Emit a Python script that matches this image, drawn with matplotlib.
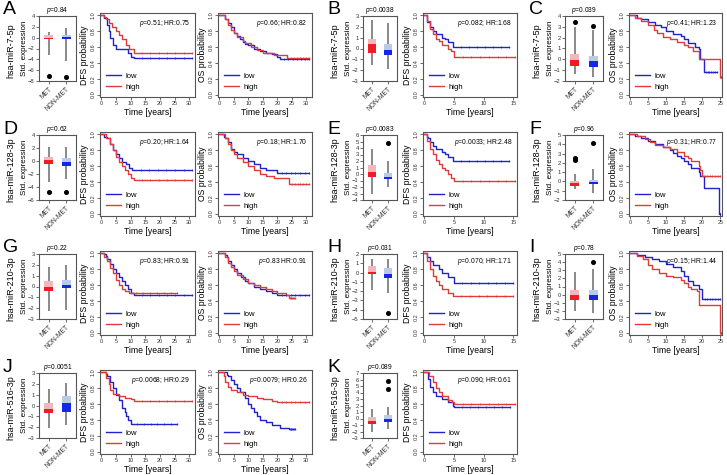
import matplotlib
matplotlib.use('Agg')
import matplotlib.pyplot as plt
import numpy as np

plt.rcParams['font.family'] = ['Liberation Sans', 'DejaVu Sans']
plt.rcParams['mathtext.fontset'] = 'custom'
plt.rcParams['mathtext.it'] = 'Liberation Sans:italic'
plt.rcParams['mathtext.rm'] = 'Liberation Sans'

W, H = 727, 475

BLUE = '#2222cc'
RED = '#e03a3a'
DARK = {'MET': '#ee1c24', 'NON-MET': '#1426e6'}
LIGHT = {'MET': '#f2b6bd', 'NON-MET': '#b9cbe9'}

# ---- box plot values: [low whisker, q1, median, q3, high whisker] ----
A_met = [-3.2, -0.3, 0.0, 0.5, 1.0];   A_met_out = [-7.0]
A_non = [-4.3, -0.3, 0.05, 0.55, 1.8]; A_non_out = [-7.2]
B_met = [-1.5, -0.45, 0.4, 0.85, 2.6]; B_met_out = []
B_non = [-1.9, -0.6, -0.1, 0.45, 2.4]; B_non_out = []
C_met = [-1.4, -0.6, -0.05, 0.5, 3.0]; C_met_out = [3.4]
C_non = [-1.6, -0.7, -0.2, 0.35, 2.7]; C_non_out = [3.1]
D_met = [-3.2, -0.4, 0.1, 0.6, 2.2];   D_met_out = [-4.7]
D_non = [-2.8, -0.8, -0.1, 0.4, 2.2];  D_non_out = [-4.7]
E_met = [-3.0, -0.4, 0.3, 1.4, 3.9];   E_met_out = []
E_non = [-2.0, -0.8, -0.4, 0.2, 2.0];  E_non_out = [4.8]
F_met = [-0.8, -0.45, -0.2, 0.1, 0.8]; F_met_out = [2.35, 2.45, 2.55]
F_non = [-1.2, -0.3, -0.05, 0.2, 1.3]; F_non_out = [4.1]
G_met = [-2.3, -0.4, 0.0, 0.5, 1.8];   G_met_out = []
G_non = [-2.2, -0.15, 0.15, 0.6, 2.0]; G_non_out = []
H_met = [-1.9, -0.2, 0.1, 0.7, 1.5];   H_met_out = []
H_non = [-2.2, -0.6, -0.2, 0.5, 1.5];  H_non_out = [-4.3]
I_met = [-2.0, -0.6, -0.1, 0.6, 2.8];  I_met_out = []
I_non = [-2.3, -0.6, -0.1, 0.6, 3.1];  I_non_out = [4.0]
J_met = [-2.1, -0.65, -0.3, 0.2, 1.5]; J_met_out = []
J_non = [-1.8, -0.6, 0.2, 0.9, 2.1];   J_non_out = []
K_met = [-2.0, -0.8, -0.4, 0.2, 1.5];  K_met_out = []
K_non = [-1.6, -0.6, -0.1, 0.5, 1.8];  K_non_out = [4.5, 5.7]

box_pvals = {'A': '0.84', 'B': '0.0038', 'C': '0.039', 'D': '0.62', 'E': '0.0083',
             'F': '0.96', 'G': '0.22', 'H': '0.031', 'I': '0.78', 'J': '0.0051', 'K': '0.089'}
box_ylims = {'A': (-8, 4, 2), 'B': (-3, 3, 1), 'C': (-2, 4, 1), 'D': (-6, 4, 2),
             'E': (-4, 6, 1), 'F': (-2, 5, 1), 'G': (-3, 3, 1), 'H': (-5, 2, 1),
             'I': (-3, 5, 1), 'J': (-3, 3, 1), 'K': (-3, 7, 1)}
genes = ['hsa-miR-7-5p', 'hsa-miR-128-3p', 'hsa-miR-210-3p', 'hsa-miR-516-3p']

# ---- Kaplan-Meier curves: step times and survival after each step ----
A_dfs_low_t = [0, 1, 2, 2.5, 3, 4, 5, 9, 10, 11, 31]
A_dfs_low_s = [1, .97, .88, .8, .72, .62, .58, .52, .48, .46, .46]
A_dfs_high_t = [0, 1, 1.5, 2.5, 3.5, 5, 6, 7, 8.5, 9.5, 11, 31]
A_dfs_high_s = [1, .98, .95, .9, .85, .8, .75, .7, .62, .57, .52, .52]
A_os_low_t = [0, 2, 3, 4, 5, 6, 7, 8, 9, 10, 12, 14, 16, 18, 20, 21, 31]
A_os_low_s = [1, .96, .9, .85, .78, .74, .7, .67, .64, .62, .58, .55, .53, .51, .47, .45, .45]
A_os_high_t = [0, 2, 3, 4, 5, 6, 8, 9, 11, 13, 15, 18, 19, 23.5, 31]
A_os_high_s = [1, .95, .88, .82, .78, .73, .68, .65, .6, .56, .53, .52, .5, .46, .46]

B_dfs_low_t = [0, .5, 1, 1.5, 2, 3, 3.5, 4, 4.8, 14.3]
B_dfs_low_s = [1, .92, .85, .8, .77, .72, .7, .67, .6, .6]
B_dfs_high_t = [0, .5, 1, 1.5, 2, 2.5, 3, 4, 4.5, 5, 15.3]
B_dfs_high_s = [1, .93, .83, .77, .7, .68, .62, .58, .55, .48, .48]

C_os_low_t = [0, 2, 3, 5, 7, 8.5, 10, 12, 14, 15, 16, 18, 19, 19.5, 20.5, 24]
C_os_low_s = [1, .97, .95, .92, .88, .85, .8, .77, .74, .7, .65, .6, .57, .45, .28, .28]
C_os_high_t = [0, 1.5, 3, 5, 6.5, 7.5, 9, 11, 13, 15, 16, 17.5, 19, 25, 25.2]
C_os_high_s = [1, .97, .93, .88, .82, .78, .73, .7, .66, .63, .6, .55, .45, .22, .22]

D_dfs_low_t = [0, 1, 2, 3, 4, 5, 6, 7, 8.5, 9.5, 10.5, 31]
D_dfs_low_s = [1, .97, .95, .88, .8, .75, .7, .65, .62, .58, .55, .55]
D_dfs_high_t = [0, 1.5, 3, 4, 5, 6, 7, 8, 9, 10, 11, 31]
D_dfs_high_s = [1, .95, .88, .8, .72, .65, .6, .55, .5, .45, .43, .43]
D_os_low_t = [0, 1.5, 2, 3, 4, 5, 6, 8, 10, 12, 14, 16, 20, 31]
D_os_low_s = [1, .97, .95, .9, .82, .78, .75, .7, .67, .62, .58, .55, .51, .51]
D_os_high_t = [0, 2, 3, 4, 5, 6, 8, 10, 12, 14, 16, 19, 24, 31]
D_os_high_s = [1, .95, .88, .8, .75, .7, .65, .6, .55, .5, .47, .45, .37, .37]

E_dfs_low_t = [0, .5, .7, 1, 1.5, 2, 3, 3.5, 4, 4.8, 14.3]
E_dfs_low_s = [1, .97, .95, .9, .85, .82, .78, .75, .72, .67, .67]
E_dfs_high_t = [0, .5, 1, 1.5, 2, 2.5, 3, 3.5, 4, 4.5, 5, 15.3]
E_dfs_high_s = [1, .92, .82, .75, .68, .62, .58, .55, .5, .45, .41, .41]

F_os_low_t = [0, 1.5, 3, 5, 7, 9, 11, 12, 13, 14, 15, 16, 17, 19, 19.5, 20.5, 24.8, 25]
F_os_low_s = [1, .98, .95, .92, .88, .84, .8, .77, .73, .7, .66, .62, .58, .52, .47, .32, 0, 0]
F_os_high_t = [0, 2, 4, 5.5, 7, 9, 11, 13, 15, 16, 17, 19, 19.5, 20, 25]
F_os_high_s = [1, .98, .94, .9, .87, .84, .81, .78, .73, .7, .66, .6, .55, .48, .48]

G_dfs_low_t = [0, 1, 1.5, 2, 3, 4, 5, 6, 7, 8, 9, 10, 11, 31]
G_dfs_low_s = [1, .99, .97, .93, .87, .8, .75, .7, .65, .6, .55, .5, .47, .47]
G_dfs_high_t = [0, 1, 2, 3, 4, 5, 6, 7, 8, 9.5, 26]
G_dfs_high_s = [1, .95, .9, .82, .75, .67, .6, .55, .52, .5, .5]
G_os_low_t = [0, 2, 2.5, 3, 4, 5, 6, 7.5, 9, 10, 12, 14, 16, 18, 20, 31]
G_os_low_s = [1, .98, .95, .9, .85, .8, .75, .7, .65, .62, .58, .55, .52, .5, .48, .48]
G_os_high_t = [0, 2, 3, 4, 5, 6, 8, 10, 12, 14, 16, 18, 20, 23, 24, 26]
G_os_high_s = [1, .95, .88, .83, .78, .73, .68, .63, .6, .57, .55, .52, .5, .47, .44, .44]

H_dfs_low_t = [0, .5, 1, 1.5, 2.5, 3, 4, 5, 15]
H_dfs_low_s = [1, .95, .9, .85, .8, .75, .7, .63, .63]
H_dfs_high_t = [0, .5, 1, 1.5, 2, 2.5, 3, 4, 4.8, 15]
H_dfs_high_s = [1, .9, .8, .72, .65, .6, .55, .5, .46, .46]

I_os_low_t = [0, 2, 4, 6, 8, 10, 12, 14, 15, 16, 17.5, 19, 20, 25]
I_os_low_s = [1, .98, .96, .93, .9, .87, .83, .78, .72, .65, .6, .55, .42, .42]
I_os_high_t = [0, 2, 3.5, 5, 6, 8, 10, 12, 14, 15, 16, 17, 18.5, 19, 25, 25.2]
I_os_high_s = [1, .97, .93, .85, .8, .75, .72, .7, .67, .63, .58, .55, .52, .35, 0, 0]

J_dfs_low_t = [0, 1.5, 2, 3, 4, 5, 6, 7, 8, 8.5, 9, 10, 26]
J_dfs_low_s = [1, .98, .95, .88, .8, .72, .65, .55, .5, .45, .4, .35, .35]
J_dfs_high_t = [0, 1.5, 2.5, 3, 4, 6, 8, 10, 11, 31]
J_dfs_high_s = [1, .93, .85, .78, .73, .7, .68, .66, .64, .64]
J_os_low_t = [0, 2.5, 3, 4, 5, 6, 7, 9, 10, 11, 12, 13, 14, 16, 18, 21, 24, 26]
J_os_low_s = [1, .97, .95, .9, .85, .8, .75, .68, .6, .55, .5, .45, .4, .37, .33, .3, .28, .28]
J_os_high_t = [0, 1.5, 2, 3, 4, 6, 8, 10, 13, 15, 18, 20, 31]
J_os_high_s = [1, .95, .88, .82, .78, .75, .72, .7, .68, .66, .64, .62, .62]

K_dfs_low_t = [0, .7, 1, 1.5, 2, 3, 4, 4.8, 5, 14.5]
K_dfs_low_s = [1, .92, .82, .75, .7, .66, .63, .58, .56, .56]
K_dfs_high_t = [0, .8, 1.5, 2, 2.5, 3, 4, 4.6, 5, 15.3]
K_dfs_high_s = [1, .95, .88, .8, .75, .7, .65, .62, .6, .6]

km_stats = {'A_dfs': 'p=0.51; HR:0.75', 'A_os': 'p=0.66; HR:0.82', 'B_dfs': 'p=0.082; HR:1.68',
            'C_os': 'p=0.41; HR:1.23', 'D_dfs': 'p=0.20; HR:1.64', 'D_os': 'p=0.18; HR:1.70',
            'E_dfs': 'p=0.0033; HR:2.48', 'F_os': 'p=0.31; HR:0.77', 'G_dfs': 'p=0.83; HR:0.91',
            'G_os': 'p=0.83 HR:0.91', 'H_dfs': 'p=0.070; HR:1.71', 'I_os': 'p=0.15; HR:1.44',
            'J_dfs': 'p=0.0068; HR:0.29', 'J_os': 'p=0.0079; HR:0.26', 'K_dfs': 'p=0.090; HR:0.61'}

fig = plt.figure(figsize=(W / 100, H / 100), dpi=100)


def add_ax(x0, y0, x1, y1):
    return fig.add_axes([x0 / W, 1 - y1 / H, (x1 - x0) / W, (y1 - y0) / H])


def style_spines(ax):
    for s in ax.spines.values():
        s.set_color('#555555')
        s.set_linewidth(0.8)
    ax.tick_params(length=2, width=0.5, pad=1, colors='#333333')


def boxpanel(x0, x1, top, letter, gene, met, met_out, non, non_out):
    ax = add_ax(x0, top + 3, x1, top + 68)
    style_spines(ax)
    for pos, grp, st, out in [(1, 'MET', met, met_out), (2, 'NON-MET', non, non_out)]:
        lo, q1, med, q3, hi = st
        ax.vlines(pos, lo, hi, color='#808080', lw=1.3, zorder=1)
        ax.bar(pos, q3 - med, bottom=med, width=0.5, color=LIGHT[grp], zorder=2)
        ax.bar(pos, med - q1, bottom=q1, width=0.5, color=DARK[grp], zorder=2)
        if out:
            ax.plot([pos] * len(out), out, 'o', color='black', ms=2.6, zorder=3)
    lo, hi, step = box_ylims[letter]
    ax.set_ylim(lo, hi)
    ax.set_yticks(np.arange(lo, hi + 0.01, step))
    ax.set_xlim(0.45, 2.55)
    ax.set_xticks([1, 2])
    ax.set_xticklabels(['MET', 'NON-MET'], rotation=45, ha='right',
                       rotation_mode='anchor', fontsize=4.8)
    ax.tick_params(axis='y', labelsize=4.2)
    ax.set_title('$p$=' + box_pvals[letter], fontsize=4.8, pad=3)
    fig.text((x0 - 14) / W, 1 - (top + 35) / H, 'Std. expression', rotation=90,
             fontsize=5.8, ha='center', va='center')
    fig.text((x0 - 28) / W, 1 - (top + 38) / H, gene, rotation=90, fontsize=6.5,
             ha='center', va='center')
    fig.text((x0 - 36) / W, 1 - (top - 3) / H, letter, fontsize=14, ha='left', va='center')
    return ax


def kmpanel(x0, x1, top, kind, xmax, key, low_t, low_s, high_t, high_s):
    ax = add_ax(x0, top, x1, top + 84)
    style_spines(ax)
    ax.step(low_t, low_s, where='post', color=BLUE, lw=1.0, label='low')
    ax.step(high_t, high_s, where='post', color=RED, lw=1.0, label='high')
    # censoring ticks along the flat tails
    for t, s, c in [(low_t, low_s, BLUE), (high_t, high_s, RED)]:
        ct = [tt for tt in np.linspace(t[-2], t[-1], 8)[1:]]
        cs = [s[np.searchsorted(t, tt, side='right') - 1] for tt in ct]
        ax.plot(ct, cs, '|', color=c, ms=2, mew=0.5)
    ax.set_ylim(-0.03, 1.03)
    ax.set_yticks(np.arange(0, 1.01, 0.2))
    ax.set_yticklabels(['%.1f' % v for v in np.arange(0, 1.01, 0.2)], rotation=90, va='center')
    if xmax == 30:
        ax.set_xlim(-0.5, 32)
        ax.set_xticks(range(0, 31, 5))
    elif xmax == 25:
        ax.set_xlim(-0.3, 25.5)
        ax.set_xticks(range(0, 26, 5))
    else:
        ax.set_xlim(-0.2, 15.6)
        ax.set_xticks(range(0, 16, 5))
    ax.tick_params(labelsize=4)
    ax.set_xlabel('Time [years]', fontsize=6.2, labelpad=1)
    ax.set_ylabel(kind + ' probability', fontsize=6.2, labelpad=1.5)
    txt = km_stats[key]
    ax.text(0.95, 0.87, '$p$' + txt[1:], transform=ax.transAxes, fontsize=4.9,
            ha='right', va='center')
    ax.legend(loc='lower left', fontsize=5.5, frameon=False, handlelength=2.0,
              handletextpad=0.5, labelspacing=0.5, borderaxespad=0.4,
              bbox_to_anchor=(0.0, 0.0))
    return ax


tops = [13, 132, 251, 370]

# row 1
boxpanel(39, 76, tops[0], 'A', genes[0], A_met, A_met_out, A_non, A_non_out)
kmpanel(100, 195, tops[0], 'DFS', 30, 'A_dfs', A_dfs_low_t, A_dfs_low_s, A_dfs_high_t, A_dfs_high_s)
kmpanel(218, 312, tops[0], 'OS', 30, 'A_os', A_os_low_t, A_os_low_s, A_os_high_t, A_os_high_s)
boxpanel(363, 397, tops[0], 'B', genes[0], B_met, B_met_out, B_non, B_non_out)
kmpanel(423, 517, tops[0], 'DFS', 15, 'B_dfs', B_dfs_low_t, B_dfs_low_s, B_dfs_high_t, B_dfs_high_s)
boxpanel(565, 603, tops[0], 'C', genes[0], C_met, C_met_out, C_non, C_non_out)
kmpanel(629, 722, tops[0], 'OS', 25, 'C_os', C_os_low_t, C_os_low_s, C_os_high_t, C_os_high_s)

# row 2
boxpanel(39, 76, tops[1], 'D', genes[1], D_met, D_met_out, D_non, D_non_out)
kmpanel(100, 195, tops[1], 'DFS', 30, 'D_dfs', D_dfs_low_t, D_dfs_low_s, D_dfs_high_t, D_dfs_high_s)
kmpanel(218, 312, tops[1], 'OS', 30, 'D_os', D_os_low_t, D_os_low_s, D_os_high_t, D_os_high_s)
boxpanel(363, 397, tops[1], 'E', genes[1], E_met, E_met_out, E_non, E_non_out)
kmpanel(423, 517, tops[1], 'DFS', 15, 'E_dfs', E_dfs_low_t, E_dfs_low_s, E_dfs_high_t, E_dfs_high_s)
boxpanel(565, 603, tops[1], 'F', genes[1], F_met, F_met_out, F_non, F_non_out)
kmpanel(629, 722, tops[1], 'OS', 25, 'F_os', F_os_low_t, F_os_low_s, F_os_high_t, F_os_high_s)

# row 3
boxpanel(39, 76, tops[2], 'G', genes[2], G_met, G_met_out, G_non, G_non_out)
kmpanel(100, 195, tops[2], 'DFS', 30, 'G_dfs', G_dfs_low_t, G_dfs_low_s, G_dfs_high_t, G_dfs_high_s)
kmpanel(218, 312, tops[2], 'OS', 30, 'G_os', G_os_low_t, G_os_low_s, G_os_high_t, G_os_high_s)
boxpanel(363, 397, tops[2], 'H', genes[2], H_met, H_met_out, H_non, H_non_out)
kmpanel(423, 517, tops[2], 'DFS', 15, 'H_dfs', H_dfs_low_t, H_dfs_low_s, H_dfs_high_t, H_dfs_high_s)
boxpanel(565, 603, tops[2], 'I', genes[2], I_met, I_met_out, I_non, I_non_out)
kmpanel(629, 722, tops[2], 'OS', 25, 'I_os', I_os_low_t, I_os_low_s, I_os_high_t, I_os_high_s)

# row 4
boxpanel(39, 76, tops[3], 'J', genes[3], J_met, J_met_out, J_non, J_non_out)
kmpanel(100, 195, tops[3], 'DFS', 30, 'J_dfs', J_dfs_low_t, J_dfs_low_s, J_dfs_high_t, J_dfs_high_s)
kmpanel(218, 312, tops[3], 'OS', 30, 'J_os', J_os_low_t, J_os_low_s, J_os_high_t, J_os_high_s)
boxpanel(363, 397, tops[3], 'K', genes[3], K_met, K_met_out, K_non, K_non_out)
kmpanel(423, 517, tops[3], 'DFS', 15, 'K_dfs', K_dfs_low_t, K_dfs_low_s, K_dfs_high_t, K_dfs_high_s)

fig.savefig('out.png', dpi=100)
